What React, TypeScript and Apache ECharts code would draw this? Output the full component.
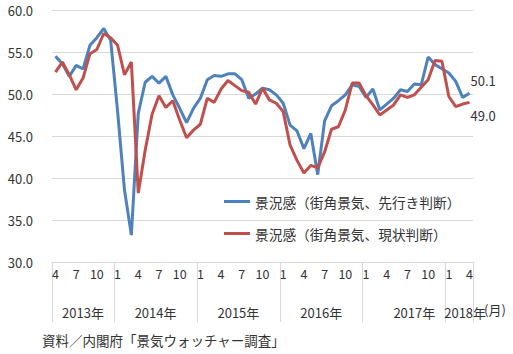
import React, { useEffect, useRef } from "react";
import * as echarts from "echarts";

const categories = [
  "2013/4", "2013/5", "2013/6", "2013/7", "2013/8", "2013/9", "2013/10", "2013/11", "2013/12",
  "2014/1", "2014/2", "2014/3", "2014/4", "2014/5", "2014/6", "2014/7", "2014/8", "2014/9", "2014/10", "2014/11", "2014/12",
  "2015/1", "2015/2", "2015/3", "2015/4", "2015/5", "2015/6", "2015/7", "2015/8", "2015/9", "2015/10", "2015/11", "2015/12",
  "2016/1", "2016/2", "2016/3", "2016/4", "2016/5", "2016/6", "2016/7", "2016/8", "2016/9", "2016/10", "2016/11", "2016/12",
  "2017/1", "2017/2", "2017/3", "2017/4", "2017/5", "2017/6", "2017/7", "2017/8", "2017/9", "2017/10", "2017/11", "2017/12",
  "2018/1", "2018/2", "2018/3", "2018/4",
];

const outlookDI = [
  54.5, 53.6, 52.1, 53.4, 53.0, 55.8, 56.7, 57.8, 56.4,
  48.0, 38.6, 33.2, 47.7, 51.4, 52.1, 51.3, 52.1, 49.9, 48.3, 46.6, 48.3,
  49.5, 51.7, 52.2, 52.1, 52.4, 52.4, 51.7, 49.5, 50.0, 50.7, 50.5, 49.9,
  48.9, 46.3, 45.6, 43.5, 45.3, 40.4, 46.8, 48.6, 49.2, 49.9, 51.1, 50.9,
  49.6, 50.6, 48.1, 48.8, 49.5, 50.5, 50.3, 51.2, 51.1, 54.4, 53.5, 53.0,
  52.5, 51.5, 49.6, 50.1,
];

const currentDI = [
  52.6, 53.8, 52.3, 50.5, 51.9, 54.8, 55.3, 57.2, 56.7,
  55.8, 52.3, 53.8, 38.2, 43.3, 47.6, 49.8, 48.4, 49.2, 46.9, 44.8, 45.7,
  46.4, 49.5, 49.0, 50.6, 51.6, 51.0, 50.4, 50.2, 48.8, 50.7, 49.3, 48.9,
  47.9, 43.9, 42.1, 40.6, 41.5, 41.2, 43.1, 45.8, 46.1, 48.1, 51.3, 51.3,
  49.8, 48.7, 47.5, 48.1, 48.7, 49.9, 49.6, 49.9, 50.8, 51.7, 54.0, 53.9,
  49.7, 48.5, 48.8, 49.0,
];

const seriesNames = ["景況感（街角景気、先行き判断）", "景況感（街角景気、現状判断）"];
const yearLabels = ["2013年", "2014年", "2015年", "2016年", "2017年", "2018年"];
const yearStartIndex = [0, 9, 21, 33, 45, 57];
const yearLabelIndex = [4, 14, 26, 38, 52, 59];
const yTicks = [30, 35, 40, 45, 50, 55, 60];
const sourceNote = "資料／内閣府「景気ウォッチャー調査」";
const monthUnit = "(月)";

const FONT = "'Noto Sans CJK JP', 'Noto Sans', sans-serif";
const BLUE = "#4F81BD";
const RED = "#C0504D";
const GRID = "#D9D9D9";
const TEXT = "#333333";

export default function App() {
  const ref = useRef<HTMLDivElement>(null);

  useEffect(() => {
    if (!ref.current) return;
    const chart = echarts.init(ref.current, undefined, { renderer: "svg" });
    const yearShiftStyle = ["a", "b", "b", "b", "a", "c"];
    chart.setOption({
      animation: false,
      textStyle: { fontFamily: FONT },
      grid: { left: 52, right: 40, top: 10, bottom: 92, containLabel: false },
      legend: {
        orient: "vertical",
        left: 224,
        top: 194,
        padding: 0,
        icon: "rect",
        itemWidth: 26,
        itemHeight: 3,
        itemGap: 17,
        textStyle: { fontSize: 13.7, color: TEXT, fontFamily: FONT, lineHeight: 15 },
        data: seriesNames,
      },
      xAxis: [
        {
          type: "category",
          data: categories,
          boundaryGap: true,
          axisLine: { show: true, lineStyle: { color: GRID, width: 1 } },
          axisTick: {
            show: true,
            length: 60,
            lineStyle: { color: GRID, width: 1 },
            interval: (i: number) => yearStartIndex.indexOf(i) >= 0,
          },
          axisLabel: {
            interval: (i: number) => i % 3 === 0,
            formatter: (v: string) => v.split("/")[1],
            fontSize: 12.5,
            color: TEXT,
            margin: 5,
            fontFamily: FONT,
          },
          splitLine: { show: false },
        },
        {
          type: "category",
          data: categories,
          boundaryGap: true,
          position: "bottom",
          offset: 36,
          axisLine: { show: false },
          axisTick: { show: false },
          axisLabel: {
            interval: (i: number) => yearLabelIndex.indexOf(i) >= 0,
            formatter: (_v: string, i: number) => {
              const k = yearLabelIndex.indexOf(i);
              if (k < 0) return "";
              return "{" + yearShiftStyle[k] + "|" + yearLabels[k] + "}";
            },
            margin: 8,
            rich: {
              a: { fontSize: 13, color: TEXT, fontFamily: FONT },
              b: { fontSize: 13, color: TEXT, fontFamily: FONT, padding: [0, 0, 0, 7] },
              c: { fontSize: 13, color: TEXT, fontFamily: FONT, padding: [0, 0, 0, 5] },
            },
          },
          splitLine: { show: false },
        },
      ],
      yAxis: {
        type: "value",
        min: yTicks[0],
        max: yTicks[yTicks.length - 1],
        interval: 5,
        axisLine: { show: false },
        axisTick: { show: false },
        axisLabel: {
          formatter: (v: number) => v.toFixed(1),
          fontSize: 13,
          color: TEXT,
          margin: 19,
          fontFamily: FONT,
        },
        splitLine: { show: true, lineStyle: { color: GRID, width: 1 } },
      },
      series: [
        {
          name: seriesNames[0],
          type: "line",
          data: outlookDI,
          symbol: "none",
          lineStyle: { color: BLUE, width: 3 },
          itemStyle: { color: BLUE },
          endLabel: {
            show: true,
            formatter: (p: any) => Number(p.value).toFixed(1),
            fontSize: 13,
            color: TEXT,
            distance: 1,
            offset: [0, -13],
            fontFamily: FONT,
          },
        },
        {
          name: seriesNames[1],
          type: "line",
          data: currentDI,
          symbol: "none",
          lineStyle: { color: RED, width: 3 },
          itemStyle: { color: RED },
          endLabel: {
            show: true,
            formatter: (p: any) => Number(p.value).toFixed(1),
            fontSize: 13,
            color: TEXT,
            distance: 1,
            offset: [0, 13],
            fontFamily: FONT,
          },
        },
      ],
      graphic: [
        {
          type: "text",
          left: 484,
          top: 303,
          style: { text: monthUnit, fontSize: 13, fill: TEXT, fontFamily: FONT },
        },
        {
          type: "text",
          left: 42,
          top: 333,
          style: { text: sourceNote, fontSize: 13.5, fill: TEXT, fontFamily: FONT },
        },
      ],
    });
    return () => chart.dispose();
  }, []);

  return (
    <div
      ref={ref}
      style={{ position: "absolute", left: 0, top: 0, width: 513, height: 354 }}
    />
  );
}
